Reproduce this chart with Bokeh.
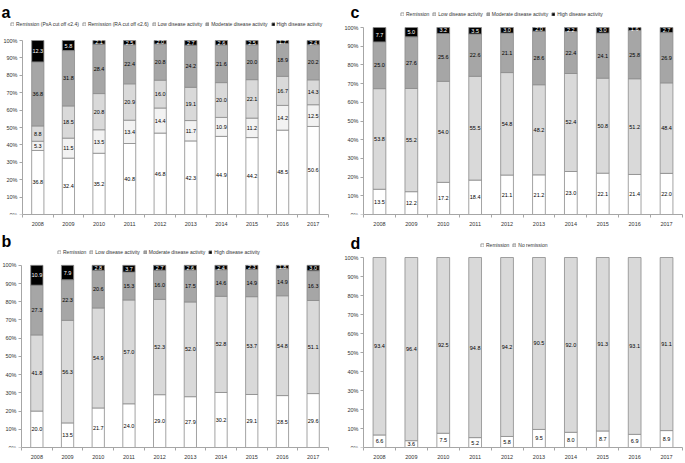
import numpy as np
from bokeh.plotting import figure
from bokeh.models import Range1d, FixedTicker, Legend, LegendItem, Label, ColumnDataSource
from bokeh.layouts import gridplot
from bokeh.embed import file_html
from bokeh.resources import INLINE
from bokeh.core.properties import value

years = ["2008", "2009", "2010", "2011", "2012", "2013", "2014", "2015", "2016", "2017"]
y_ticks = [0, 10, 20, 30, 40, 50, 60, 70, 80, 90, 100]

# Panel a
a_names = ["Remission (PsA cut off \u22642.4)", "Remission (RA cut off \u22642.6)",
           "Low disease activity", "Moderate disease activity", "High disease activity"]
a_rem_psa = [36.8, 32.4, 35.2, 40.8, 46.8, 42.3, 44.9, 44.2, 48.5, 50.6]
a_rem_ra = [5.3, 11.5, 13.5, 13.4, 14.4, 11.7, 10.9, 11.2, 14.2, 12.5]
a_low = [8.8, 18.5, 20.8, 20.9, 16.0, 19.1, 20.0, 22.1, 16.7, 14.3]
a_mod = [36.8, 31.8, 28.4, 22.4, 20.8, 24.2, 21.6, 20.0, 18.9, 20.2]
a_high = [12.3, 5.8, 2.1, 2.5, 2.0, 2.7, 2.6, 2.5, 1.7, 2.4]

# Panel b
bc_names = ["Remission", "Low disease activity", "Moderate disease activity", "High disease activity"]
b_rem = [20.0, 13.5, 21.7, 24.0, 29.0, 27.9, 30.2, 29.1, 28.5, 29.6]
b_low = [41.8, 56.3, 54.9, 57.0, 52.3, 52.0, 52.8, 53.7, 54.8, 51.1]
b_mod = [27.3, 22.3, 20.6, 15.3, 16.0, 17.5, 14.6, 14.9, 14.9, 16.3]
b_high = [10.9, 7.9, 2.8, 3.7, 2.7, 2.6, 2.4, 2.3, 1.8, 3.0]

# Panel c
c_rem = [13.5, 12.2, 17.2, 18.4, 21.1, 21.2, 23.0, 22.1, 21.4, 22.0]
c_low = [53.8, 55.2, 54.0, 55.5, 54.8, 48.2, 52.4, 50.8, 51.2, 48.4]
c_mod = [25.0, 27.6, 25.6, 22.6, 21.1, 28.6, 22.4, 24.1, 25.8, 26.9]
c_high = [7.7, 5.0, 3.2, 3.5, 3.0, 2.0, 2.2, 3.0, 1.6, 2.7]

# Panel d
d_names = ["Remission", "No remission"]
d_rem = [6.6, 3.6, 7.5, 5.2, 5.8, 9.5, 8.0, 8.7, 6.9, 8.9]
d_norem = [93.4, 96.4, 92.5, 94.8, 94.2, 90.5, 92.0, 91.3, 93.1, 91.1]

FONT = "Liberation Sans"
AX = "#a6a6a6"
OUT = "#8c8c8c"


def panel(letter, names, series, colors, tcolors, W, H, bl, br, bb, top100,
          letter_x, letter_base, leg_left, leg_bottom):
    n = len(years)
    fw = W - br
    fh = H - bb
    ppp = (fh - top100) / 100.0
    ytop = fh / ppp
    upx = (fw - bl) / n
    xstart = -0.5 - bl / upx

    x = np.arange(n)
    p = figure(width=W, height=H, x_range=Range1d(xstart, n - 0.5), y_range=Range1d(0, ytop),
               output_backend="svg", toolbar_location=None,
               min_border_left=0, min_border_right=br, min_border_top=0, min_border_bottom=bb)
    p.outline_line_color = None
    p.grid.visible = False
    p.background_fill_color = "white"

    keys = ["s%d" % i for i in range(len(series))]
    data = {"x": x}
    for k, s in zip(keys, series):
        data[k] = s
    src = ColumnDataSource(data)
    rs = p.vbar_stack(keys, x="x", width=0.4, source=src, fill_color=colors,
                      line_color=OUT, line_width=0.8)

    # value labels
    cum = np.zeros(n)
    for s, tc in zip(series, tcolors):
        arr = np.array(s)
        centers = cum + arr / 2
        cum = cum + arr
        p.text(x=x, y=centers, text=["%.1f" % v for v in arr], text_align="center",
               text_baseline="middle", text_font=value(FONT), text_font_size="5.5px",
               text_color=tc)

    # axes
    ya = p.yaxis[0]
    ya.fixed_location = -0.5
    ya.ticker = FixedTicker(ticks=y_ticks)
    ya.major_label_overrides = {t: "%d%%" % t for t in y_ticks}
    ya.bounds = (0, 100)
    ya.axis_line_color = AX
    ya.major_tick_line_color = AX
    ya.major_tick_out = 3
    ya.major_tick_in = 0
    ya.minor_tick_line_color = None
    ya.major_label_text_font = FONT
    ya.major_label_text_font_size = "5.5px"
    ya.major_label_text_color = "#333333"
    ya.major_label_standoff = 2

    xa = p.xaxis[0]
    xa.ticker = FixedTicker(ticks=list(x), minor_ticks=list(np.arange(n + 1) - 0.5))
    xa.major_label_overrides = {int(i): y for i, y in zip(x, years)}
    xa.bounds = (-0.5, n - 0.5)
    xa.axis_line_color = AX
    xa.major_tick_line_color = None
    xa.major_tick_out = 0
    xa.major_tick_in = 0
    xa.minor_tick_line_color = AX
    xa.minor_tick_out = 3
    xa.minor_tick_in = 0
    xa.major_label_text_font = FONT
    xa.major_label_text_font_size = "5.5px"
    xa.major_label_text_color = "#333333"
    xa.major_label_standoff = 4

    # panel letter
    p.add_layout(Label(x=xstart + letter_x / upx, y=ytop - letter_base / ppp, text=letter,
                       text_font=FONT, text_font_size="16px", text_font_style="bold",
                       text_baseline="alphabetic", text_color="black"))

    items = [LegendItem(label=nm, renderers=[r]) for nm, r in zip(names, rs)]
    leg = Legend(items=items, location=(leg_left, fh - leg_bottom), margin=0)
    leg.orientation = "horizontal"
    leg.label_text_font = FONT
    leg.label_text_font_size = "5px"
    leg.label_text_color = "#333333"
    leg.glyph_width = 4
    leg.glyph_height = 4
    leg.label_standoff = 2
    leg.spacing = 3
    leg.padding = 0
    leg.border_line_color = None
    leg.background_fill_alpha = 0
    leg.label_height = 5
    leg.label_width = 5
    p.add_layout(leg)
    return p


c5 = ["white", "#f2f2f2", "#d9d9d9", "#a6a6a6", "black"]
t5 = ["black", "black", "black", "black", "white"]
c4 = ["white", "#d9d9d9", "#a6a6a6", "black"]
t4 = ["black", "black", "black", "white"]

pa = panel("a", a_names, [a_rem_psa, a_rem_ra, a_low, a_mod, a_high], c5, t5,
           340, 230, 22, 12, 16, 40, 1, 12, 10, 26.5)
pb = panel("b", bc_names, [b_rem, b_low, b_mod, b_high], c4, t4,
           340, 233, 21, 12, 15, 35, 1, 11.5, 57, 25.5)
pc = panel("c", bc_names, [c_rem, c_low, c_mod, c_high], c4, t4,
           345, 230, 23, 3, 16, 27, 10, 12, 60, 16.5)
pd_ = panel("d", d_names, [d_rem, d_norem], ["white", "#d9d9d9"], ["black", "black"],
            345, 233, 23, 3, 16, 27, 10, 13, 140, 17.5)

grid = gridplot([[pa, pc], [pb, pd_]], toolbar_location=None)
open("out.html", "w").write(file_html(grid, INLINE))
